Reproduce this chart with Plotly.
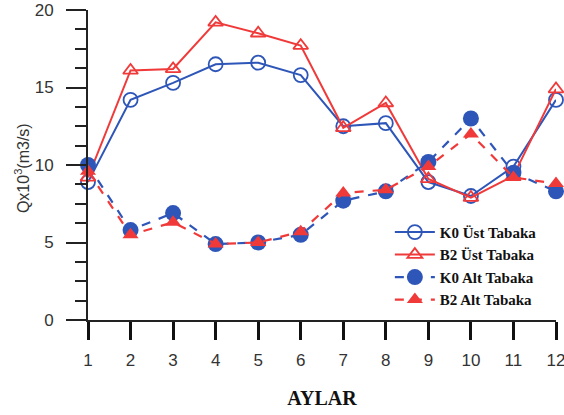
import plotly.graph_objects as go

months = [1, 2, 3, 4, 5, 6, 7, 8, 9, 10, 11, 12]
k0_ust = [8.9, 14.2, 15.3, 16.5, 16.6, 15.8, 12.5, 12.7, 8.9, 8.0, 9.9, 14.2]
b2_ust = [9.2, 16.1, 16.2, 19.2, 18.5, 17.7, 12.4, 14.0, 9.1, 7.9, 9.3, 14.9]
k0_alt = [10.0, 5.8, 6.9, 4.9, 5.0, 5.5, 7.7, 8.3, 10.2, 13.0, 9.5, 8.3]
b2_alt = [9.6, 5.5, 6.3, 4.9, 5.0, 5.7, 8.2, 8.4, 9.9, 12.0, 9.2, 8.8]

names = ["<b>K0 Üst Tabaka</b>", "<b>B2 Üst Tabaka</b>", "<b>K0 Alt Tabaka</b>", "<b>B2 Alt Tabaka</b>"]
blue = "#2E56B8"
red = "#F03A3A"

fig = go.Figure()
fig.add_trace(go.Scatter(x=months, y=k0_ust, name=names[0], mode="lines+markers",
                         line=dict(color=blue, width=2),
                         marker=dict(symbol="circle-open", size=14, color=blue, line=dict(width=1.8)),
                         cliponaxis=False))
fig.add_trace(go.Scatter(x=months, y=b2_ust, name=names[1], mode="lines+markers",
                         line=dict(color=red, width=2),
                         marker=dict(symbol="triangle-up-open", size=13, color=red, line=dict(width=1.8)),
                         cliponaxis=False))
fig.add_trace(go.Scatter(x=months, y=k0_alt, name=names[2], mode="lines+markers",
                         line=dict(color=blue, width=2.2, dash="dash"),
                         marker=dict(symbol="circle", size=16, color=blue),
                         cliponaxis=False))
fig.add_trace(go.Scatter(x=months, y=b2_alt, name=names[3], mode="lines+markers",
                         line=dict(color=red, width=2.2, dash="dash"),
                         marker=dict(symbol="triangle-up", size=14, color=red),
                         cliponaxis=False))

fig.update_layout(
    width=564, height=415,
    margin=dict(l=88, r=8, t=10, b=95, autoexpand=False),
    paper_bgcolor="white", plot_bgcolor="white",
    font=dict(family="Arial, Liberation Sans, sans-serif", color="#333"),
    legend=dict(x=0.645, y=0.336, xanchor="left", yanchor="top",
                font=dict(family="Liberation Serif", size=15, color="#111"),
                bgcolor="rgba(255,255,255,0)", tracegroupgap=0, itemwidth=40),
    showlegend=True,
    annotations=[dict(text="Qx10<sup>3</sup>(m3/s)", textangle=-90, xref="paper", yref="paper",
                      x=-0.141, y=0.49, xanchor="center", yanchor="middle", showarrow=False,
                      font=dict(size=16, color="#333"))],
)
fig.update_xaxes(range=[1, 12], dtick=1, tick0=1, automargin=False,
                 showline=True, linecolor="#222", linewidth=2,
                 ticks="outside", ticklen=18, tickwidth=2.5, tickcolor="#111",
                 tickfont=dict(size=17, color="#333"), ticklabelstandoff=6,
                 ticklabeloverflow="allow",
                 showgrid=False, zeroline=False,
                 title=dict(text="<b>AYLAR</b>", font=dict(family="Liberation Serif", size=20, color="#111"),
                            standoff=22))
fig.update_yaxes(range=[0, 20], tickvals=[0, 5, 10, 15, 20], automargin=False,
                 showline=True, linecolor="#222", linewidth=2,
                 ticks="outside", ticklen=20, tickwidth=2, tickcolor="#222",
                 tickfont=dict(size=17, color="#333"), ticklabelstandoff=9,
                 ticklabeloverflow="allow",
                 minor=dict(dtick=1.25, ticks="outside", ticklen=11, tickwidth=2, tickcolor="#222", showgrid=False),
                 showgrid=False, zeroline=False)

fig.write_html("out.html", config={"displayModeBar": False},
               post_script="document.body.style.margin='0';")
